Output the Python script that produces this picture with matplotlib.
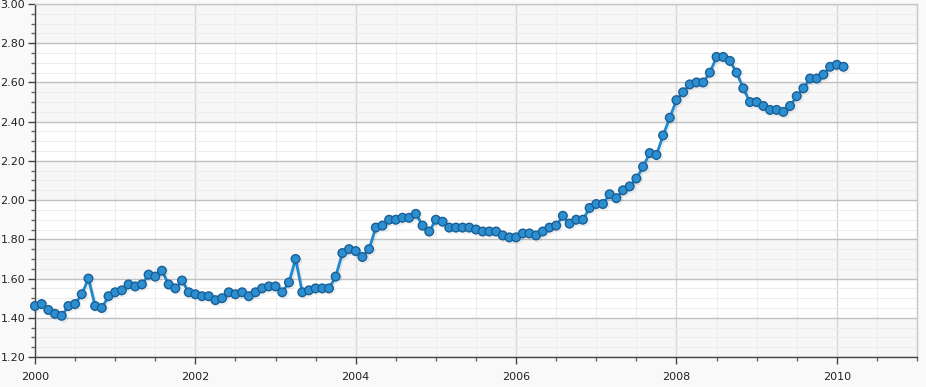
import matplotlib
matplotlib.use("Agg")
import matplotlib.pyplot as plt
import matplotlib.patheffects as pe
from matplotlib.ticker import MultipleLocator
import numpy as np

start_year = 2000
values = [
    1.46, 1.47, 1.44, 1.42, 1.41, 1.46, 1.47, 1.52, 1.60, 1.46, 1.45, 1.51,  # 2000
    1.53, 1.54, 1.57, 1.56, 1.57, 1.62, 1.61, 1.64, 1.57, 1.55, 1.59, 1.53,  # 2001
    1.52, 1.51, 1.51, 1.49, 1.50, 1.53, 1.52, 1.53, 1.51, 1.53, 1.55, 1.56,  # 2002
    1.56, 1.53, 1.58, 1.70, 1.53, 1.54, 1.55, 1.55, 1.55, 1.61, 1.73, 1.75,  # 2003
    1.74, 1.71, 1.75, 1.86, 1.87, 1.90, 1.90, 1.91, 1.91, 1.93, 1.87, 1.84,  # 2004
    1.90, 1.89, 1.86, 1.86, 1.86, 1.86, 1.85, 1.84, 1.84, 1.84, 1.82, 1.81,  # 2005
    1.81, 1.83, 1.83, 1.82, 1.84, 1.86, 1.87, 1.92, 1.88, 1.90, 1.90, 1.96,  # 2006
    1.98, 1.98, 2.03, 2.01, 2.05, 2.07, 2.11, 2.17, 2.24, 2.23, 2.33, 2.42,  # 2007
    2.51, 2.55, 2.59, 2.60, 2.60, 2.65, 2.73, 2.73, 2.71, 2.65, 2.57, 2.50,  # 2008
    2.50, 2.48, 2.46, 2.46, 2.45, 2.48, 2.53, 2.57, 2.62, 2.62, 2.64, 2.68,  # 2009
    2.69, 2.68,                                                              # 2010
]
x_tick_labels = ["2000", "2002", "2004", "2006", "2008", "2010"]
y_tick_labels = ["1.20", "1.40", "1.60", "1.80", "2.00", "2.20", "2.40", "2.60", "2.80", "3.00"]

x = start_year + np.arange(len(values)) / 12.0

W, H = 926, 387
fig = plt.figure(figsize=(W / 100, H / 100), dpi=100)
fig.patch.set_facecolor("#f9f9f9")
ax = fig.add_axes([35 / W, 1 - 357 / H, (917 - 35) / W, (357 - 4) / H])
ax.set_facecolor("white")

ax.set_xlim(2000, 2011)
ax.set_ylim(1.2, 3.0)

# alternating bands
yt = [float(v) for v in y_tick_labels]
for i in range(0, len(yt) - 1):
    if i % 2 == 0:
        ax.axhspan(yt[i], yt[i + 1], color="#f7f7f7", zorder=0, lw=0)

ax.xaxis.set_minor_locator(MultipleLocator(0.5))
ax.yaxis.set_minor_locator(MultipleLocator(0.05))
ax.set_xticks([int(s) for s in x_tick_labels])
ax.set_xticklabels(x_tick_labels)
ax.set_yticks(yt)
ax.set_yticklabels(y_tick_labels)

ax.grid(which="major", axis="y", color="#c0c0c0", lw=1.0, zorder=1)
ax.grid(which="major", axis="x", color="#d8d8d8", lw=1.0, zorder=1)
ax.grid(which="minor", color="#eeeeee", lw=0.8, zorder=0.5)
ax.set_axisbelow(True)

for s in ["top", "right"]:
    ax.spines[s].set_color("#c8c8c8")
    ax.spines[s].set_linewidth(1.0)
for s in ["left", "bottom"]:
    ax.spines[s].set_color("#444444")
    ax.spines[s].set_linewidth(1.0)

ax.tick_params(which="major", length=5, width=1, color="#444444", labelsize=8, labelcolor="#222222")
ax.tick_params(which="minor", length=3, width=1, color="#666666")
ax.tick_params(axis="x", which="major", pad=6)
ax.tick_params(axis="y", which="major", pad=2)

ax.plot(x, values, color="#1e88d0", lw=2, zorder=3, clip_on=False,
        marker="o", markersize=6.2, markerfacecolor="#2b8fd2",
        markeredgecolor="#1a5f95", markeredgewidth=1.0,
        path_effects=[pe.SimpleLineShadow(offset=(1.2, -1.2), shadow_color="#000000", alpha=0.08), pe.Normal()])

fig.savefig("out.png", dpi=100, facecolor=fig.get_facecolor())
